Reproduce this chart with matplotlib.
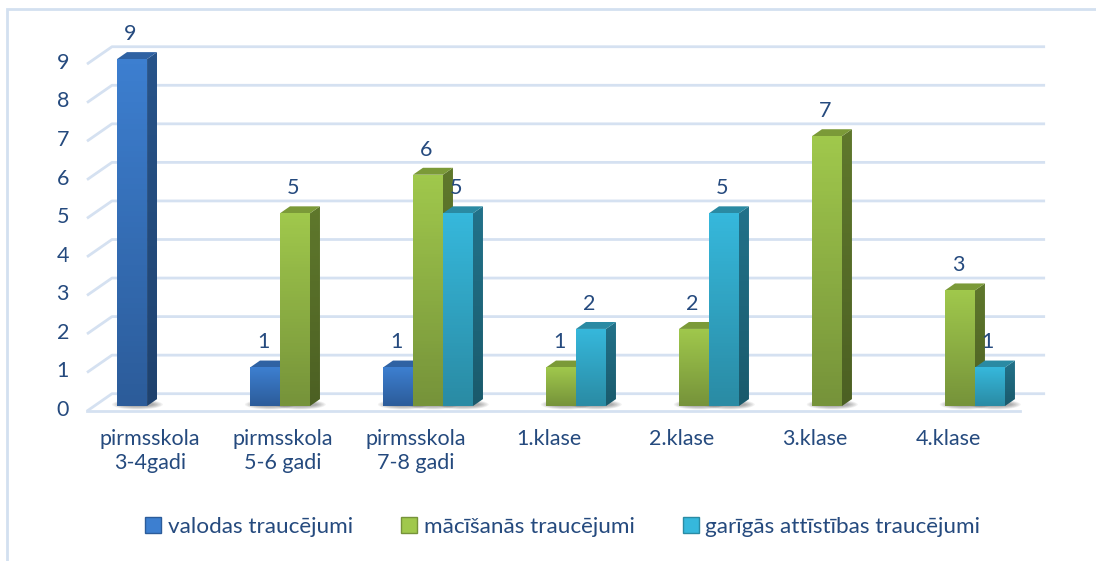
import matplotlib.pyplot as plt
import numpy as np
from matplotlib.patches import Polygon, Rectangle, Ellipse
from matplotlib.colors import LinearSegmentedColormap
from matplotlib.lines import Line2D

categories = ["pirmsskola\n3-4gadi", "pirmsskola\n5-6 gadi", "pirmsskola\n7-8 gadi",
              "1.klase", "2.klase", "3.klase", "4.klase"]
series_names = ["valodas traucējumi", "mācīšanās traucējumi", "garīgās attīstības traucējumi"]
valodas = [9, 1, 1, 0, 0, 0, 0]
macisanas = [0, 5, 6, 1, 2, 7, 3]
garigas = [0, 0, 5, 2, 5, 0, 1]
y_ticks = list(range(10))

# front gradient (top, bottom), top face, side face (top, bottom)
palette = [
    ("#3d7fd0", "#2c5c9a", "#2f62a3", "#28548a", "#1f426e"),
    ("#a0c84c", "#76933a", "#7b9a38", "#5f782c", "#4c6023"),
    ("#36b8dc", "#2a8ba4", "#2a8aa3", "#22728a", "#1a5a6c"),
]
text_c = "#254a7e"
grid_c = "#d5e1f1"

plt.rcParams['font.family'] = ['Lato', 'DejaVu Sans']

fig = plt.figure(figsize=(10.96, 5.61), dpi=100)
ax = fig.add_axes([0.075, 0.2556, 0.8919, 0.6941])
ax.set_xlim(-0.6, 6.75)
ax.set_ylim(-0.3, 9.8)
ax.axis("off")

# outer frame of the chart
fig.patches.append(Rectangle((0.0064, -0.05), 1.2, 1.034, transform=fig.transFigure,
                             fill=False, edgecolor="#d3e0f0", linewidth=2))

bw = 0.2256          # bar width in category units
ddx, ddy = 0.075, 0.18   # bar depth offset
gx0, gx1, gend = -0.564, -0.376, 6.64

# back wall gridlines with perspective
for v in y_ticks:
    ax.plot([gx0, gx1, gend], [v - 0.13, v + 0.32, v + 0.32], color=grid_c, lw=2,
            solid_capstyle="butt", zorder=1)
    ax.text(-0.70, v - 0.1, str(v), ha="right", va="center", fontsize=15.5, color=text_c)
ax.plot([gx0, 6.45], [-0.13, -0.13], color=grid_c, lw=2, zorder=1)


def grad_poly(xs, ys, c_top, c_bot, z):
    poly = Polygon(list(zip(xs, ys)), closed=True, facecolor="none", edgecolor="none")
    ax.add_patch(poly)
    cmap = LinearSegmentedColormap.from_list("g", [c_bot, c_top])
    grad = np.linspace(0, 1, 64).reshape(-1, 1)
    im = ax.imshow(grad, cmap=cmap, origin="lower", aspect="auto",
                   extent=(min(xs), max(xs), min(ys), max(ys)), zorder=z)
    im.set_clip_path(poly)


all_series = [valodas, macisanas, garigas]
offsets = [-0.338, -0.1128, 0.1128]
for s, vals in enumerate(all_series):
    ftop, fbot, ctop, stop, sbot = palette[s]
    for i, v in enumerate(vals):
        if v <= 0:
            continue
        x0 = i + offsets[s]
        x1 = x0 + bw
        z = 3 + s
        # soft shadow on floor
        for k in range(7):
            ax.add_patch(Ellipse((x0 + bw / 2 + 0.04, 0.04), bw * (1.7 - k * 0.1), 0.26 - k * 0.025,
                                 facecolor="#000000", alpha=0.05, edgecolor="none", zorder=2))
        # side face
        grad_poly([x1, x1 + ddx, x1 + ddx, x1], [0, ddy, v + ddy, v], stop, sbot, z)
        # top face
        ax.add_patch(Polygon([(x0, v), (x1, v), (x1 + ddx, v + ddy), (x0 + ddx, v + ddy)],
                             closed=True, facecolor=ctop, edgecolor="none", zorder=z))
        # front face
        grad_poly([x0, x1, x1, x0], [0, 0, v, v], ftop, fbot, z + 0.1)
        ax.text(x0 + bw / 2 - 0.015, v + 0.65, str(v), ha="center", va="center",
                fontsize=15.5, color=text_c, zorder=10)

for i, c in enumerate(categories):
    ax.text(i - 0.09, -0.6, c, ha="center", va="top", fontsize=15.5, color=text_c,
            linespacing=1.25, clip_on=False)

handles = [Line2D([], [], marker="s", linestyle="none", markersize=11,
                  markerfacecolor=palette[s][0], markeredgecolor=palette[s][1]) for s in range(3)]
fig.legend(handles, series_names, loc="center", bbox_to_anchor=(0.512, 0.06), ncol=3,
           frameon=False, fontsize=16.2, labelcolor=text_c, handletextpad=0.15,
           columnspacing=2.0, handlelength=1.0)

fig.savefig("out.png", dpi=100)
